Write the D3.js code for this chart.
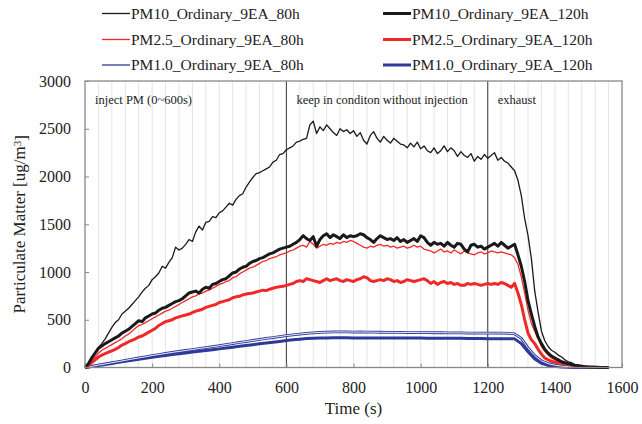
<!DOCTYPE html>
<html>
<head>
<meta charset="utf-8">
<script src="https://cdn.jsdelivr.net/npm/d3@7"></script>
<style>
  body { margin: 0; background: #fff; }
  svg text { font-family: "Liberation Serif", "Times New Roman", serif; fill: #222; }
</style>
</head>
<body>
<div id="chart"></div>
<script>
// time bases (s)
const time10 = d3.range(0, 1561, 10);
const time20 = d3.range(0, 1561, 20);

// PM10, 80h filter (every 10 s)
const pm10_80h = [
  0, 40, 95, 150, 210, 250, 300, 360, 420, 470,
  500, 560, 590, 620, 660, 700, 740, 790, 830, 860,
  920, 950, 990, 1060, 1040, 1100, 1150, 1260, 1230, 1250,
  1290, 1340, 1320, 1420, 1480, 1440, 1520, 1530, 1580, 1570,
  1620, 1640, 1680, 1720, 1700, 1760, 1800, 1820, 1890, 1940,
  1990, 2030, 2040, 2060, 2080, 2100, 2150, 2170, 2230, 2240,
  2280, 2300, 2320, 2360, 2370, 2390, 2400, 2540, 2580, 2450,
  2520, 2480, 2540, 2500, 2460, 2430, 2500, 2470, 2490, 2450,
  2480, 2420, 2460, 2380, 2340, 2430, 2470, 2400, 2360, 2420,
  2380, 2350, 2400, 2370, 2340, 2330, 2300, 2350, 2310, 2360,
  2290, 2320, 2270, 2250, 2300, 2240, 2270, 2320, 2260, 2300,
  2270, 2210, 2260, 2220, 2200, 2240, 2160, 2210, 2180, 2230,
  2190, 2220, 2250, 2170, 2200, 2160, 2140, 2100, 2060, 1960,
  1800, 1560, 1380, 1140, 800, 580, 380, 280, 220, 180,
  160, 130, 110, 80, 60, 50, 30, 25, 15, 10,
  6, 4, 2, 0, 0, 0, 0
];

// PM10, 120h filter
const pm10_120h = [
  0, 40, 100, 150, 200, 225, 250, 270, 290, 310,
  330, 360, 380, 400, 430, 460, 490, 480, 520, 540,
  560, 570, 600, 620, 630, 650, 670, 690, 700, 720,
  750, 780, 790, 800, 780, 820, 840, 830, 870, 880,
  900, 920, 930, 960, 990, 1000, 1030, 1050, 1060, 1090,
  1110, 1120, 1140, 1150, 1170, 1190, 1200, 1220, 1240, 1250,
  1260, 1270, 1290, 1310, 1340, 1380, 1350, 1330, 1370, 1270,
  1340, 1380, 1400, 1360, 1390, 1370, 1350, 1390, 1360, 1380,
  1370, 1380, 1400, 1390, 1360, 1340, 1310, 1350, 1380, 1360,
  1340, 1350, 1330, 1360, 1320, 1340, 1310, 1330, 1350, 1320,
  1380, 1360, 1310, 1280, 1310, 1290, 1300, 1270, 1310, 1280,
  1260, 1300, 1290, 1240, 1210, 1280, 1290, 1260, 1270, 1240,
  1260, 1280, 1300, 1270, 1310, 1280, 1250, 1270, 1290, 1180,
  1060, 900, 700, 560, 430, 320, 250, 190, 150, 120,
  100, 80, 60, 50, 40, 30, 22, 18, 12, 8,
  5, 3, 2, 1, 0, 0, 0
];

// PM2.5, 80h filter
const pm25_80h = [
  0, 30, 70, 110, 150, 180, 200, 220, 240, 260,
  280, 300, 330, 350, 380, 410, 440, 450, 470, 490,
  510, 530, 550, 570, 590, 600, 620, 640, 660, 680,
  700, 720, 740, 750, 770, 780, 800, 810, 830, 850,
  870, 880, 900, 910, 940, 950, 980, 1000, 1020, 1040,
  1050, 1070, 1090, 1110, 1120, 1140, 1150, 1160, 1180, 1190,
  1200, 1220, 1230, 1250, 1270, 1280, 1260, 1320, 1290, 1250,
  1270, 1290, 1280, 1300, 1290, 1310, 1300, 1320, 1310, 1330,
  1320, 1300, 1280, 1260, 1250, 1270, 1260, 1280, 1290, 1270,
  1280, 1260, 1270, 1250, 1260, 1270, 1250, 1260, 1280, 1260,
  1270, 1240, 1230, 1220, 1200, 1220, 1240, 1210, 1220, 1200,
  1230, 1210, 1190, 1220, 1200, 1190, 1180, 1200, 1210, 1190,
  1200, 1220, 1210, 1200, 1210, 1200, 1190, 1180, 1150, 1080,
  950, 780, 600, 460, 380, 300, 220, 170, 130, 100,
  80, 65, 55, 45, 38, 30, 24, 18, 14, 10,
  6, 4, 3, 2, 1, 0, 0
];

// PM2.5, 120h filter
const pm25_120h = [
  0, 20, 50, 80, 110, 130, 145, 160, 175, 190,
  210, 235, 250, 270, 285, 300, 320, 330, 350, 370,
  390, 410, 440, 460, 480, 490, 500, 520, 530, 540,
  550, 560, 575, 590, 600, 610, 630, 640, 650, 660,
  680, 690, 700, 710, 730, 740, 745, 760, 770, 775,
  780, 790, 800, 810, 805, 820, 830, 840, 845, 850,
  860, 870, 880, 900, 910, 900, 930, 920, 910, 900,
  890, 910, 930, 910, 920, 930, 910, 900, 920, 910,
  900, 920, 930, 950, 940, 910, 900, 910, 920, 910,
  930, 920, 900, 910, 890, 900, 920, 910, 900, 910,
  920, 930, 910, 880, 900, 870, 890, 900, 880, 890,
  870, 880, 860, 860, 880, 870, 880, 870, 860, 870,
  880, 870, 880, 870, 890, 880, 860, 840, 880, 780,
  660, 500, 360, 290, 250, 190, 140, 100, 80, 65,
  56, 50, 42, 36, 31, 25, 20, 15, 12, 9,
  5, 4, 3, 2, 1, 0, 0
];

// PM1.0, 80h filter (every 20 s)
const pm1_80h = [
  0, 12, 25, 37, 50, 62, 75, 88, 100, 112,
  125, 136, 147, 158, 168, 178, 188, 198, 208, 218,
  228, 240, 251, 262, 272, 283, 294, 304, 314, 324,
  334, 342, 350, 357, 363, 367, 370, 372, 373, 372,
  371, 372, 371, 370, 369, 368, 368, 367, 366, 366,
  365, 365, 364, 364, 363, 362, 362, 361, 361, 360,
  360, 360, 361, 358, 352, 305, 205, 125, 70, 40,
  24, 14, 8, 5, 3, 2, 1, 0, 0
];

// PM1.0, 120h filter
const pm1_120h = [
  0, 10, 21, 32, 43, 54, 65, 76, 86, 97,
  108, 117, 126, 135, 144, 152, 161, 170, 178, 187,
  195, 204, 213, 222, 230, 239, 248, 256, 265, 273,
  282, 290, 297, 303, 307, 309, 310, 311, 311, 311,
  310, 310, 310, 309, 309, 309, 308, 308, 308, 308,
  308, 307, 307, 306, 306, 305, 305, 304, 303, 303,
  302, 302, 301, 301, 300, 250, 165, 90, 45, 22,
  12, 6, 3, 1, 0, 0, 0, 0, 0
];

const xTicks = d3.range(0, 1601, 200);
const yTicks = d3.range(0, 3001, 500);
const phaseLines = [600, 1200];
const phaseLabels = ["inject PM (0~600s)", "keep in conditon without injection", "exhaust"];
const phaseStarts = [0, 600, 1200];

const series = [
  { name: "PM1.0_Ordinary_9EA_120h", time: time20, values: pm1_120h, color: "#2d3a9a", width: 3, col: 1, row: 2 },
  { name: "PM1.0_Ordinary_9EA_80h", time: time20, values: pm1_80h, color: "#2d3a9a", width: 1.3, col: 0, row: 2, hollow: true },
  { name: "PM2.5_Ordinary_9EA_120h", time: time10, values: pm25_120h, color: "#f02828", width: 3, col: 1, row: 1 },
  { name: "PM2.5_Ordinary_9EA_80h", time: time10, values: pm25_80h, color: "#f02828", width: 1.3, col: 0, row: 1 },
  { name: "PM10_Ordinary_9EA_120h", time: time10, values: pm10_120h, color: "#1a1a1a", width: 3, col: 1, row: 0 },
  { name: "PM10_Ordinary_9EA_80h", time: time10, values: pm10_80h, color: "#1a1a1a", width: 1.3, col: 0, row: 0 }
];

const FONT = "'Liberation Serif', 'Times New Roman', serif";
const width = 642, height = 424;
const margin = { top: 81, right: 20, bottom: 56.5, left: 85 };

const svg = d3.select("#chart").append("svg")
  .attr("width", width)
  .attr("height", height)
  .style("font-family", FONT);

const x = d3.scaleLinear().domain([0, 1600]).range([margin.left, width - margin.right]);
const y = d3.scaleLinear().domain([0, 3000]).range([height - margin.bottom, margin.top]);

// light vertical grid every 40 s
svg.append("g")
  .selectAll("line")
  .data(d3.range(40, 1600, 40))
  .enter().append("line")
  .attr("x1", d => x(d)).attr("x2", d => x(d))
  .attr("y1", y(0)).attr("y2", y(3000))
  .style("stroke", "#e4e4e4")
  .style("stroke-width", 1);

// phase separators
svg.append("g")
  .selectAll("line")
  .data(phaseLines)
  .enter().append("line")
  .attr("x1", d => x(d)).attr("x2", d => x(d))
  .attr("y1", y(0)).attr("y2", y(3000))
  .style("stroke", "#3a3a3a")
  .style("stroke-width", 1);

// phase labels
svg.append("g")
  .selectAll("text")
  .data(phaseLabels)
  .enter().append("text")
  .attr("x", (d, i) => x(phaseStarts[i]) + 10)
  .attr("y", 104)
  .style("font-family", FONT)
  .style("font-size", "12.5px")
  .text(d => d);

// axes
const xAxis = svg.append("g")
  .attr("transform", `translate(0,${y(0)})`)
  .call(d3.axisBottom(x).tickValues(xTicks).tickFormat(d3.format("d")).tickSize(-4).tickPadding(14));
const yAxis = svg.append("g")
  .attr("transform", `translate(${x(0)},0)`)
  .call(d3.axisLeft(y).tickValues(yTicks).tickFormat(d3.format("d")).tickSize(-4).tickPadding(14));

[xAxis, yAxis].forEach(g => {
  g.attr("font-family", FONT).attr("font-size", 16);
  g.select(".domain").remove();
  g.selectAll(".tick line").style("stroke", "#888");
  g.selectAll(".tick text")
    .style("font-family", FONT)
    .style("font-size", "16px")
    .style("fill", "#222");
});

// lines
const line = d3.line()
  .x(d => x(d[0]))
  .y(d => y(d[1]));

series.forEach(s => {
  const pts = s.time.map((t, i) => [t, s.values[i]]);
  if (s.hollow) {
    svg.append("path")
      .attr("d", line(pts))
      .style("fill", "none")
      .style("stroke", s.color)
      .style("stroke-width", 2.8)
      .style("stroke-linejoin", "round");
    svg.append("path")
      .attr("d", line(pts))
      .style("fill", "none")
      .style("stroke", "#fff")
      .style("stroke-width", 0.9);
  } else {
    svg.append("path")
      .attr("d", line(pts))
      .style("fill", "none")
      .style("stroke", s.color)
      .style("stroke-width", s.width)
      .style("stroke-linejoin", "round");
  }
});

// plot frame
svg.append("rect")
  .attr("x", x(0)).attr("y", y(3000))
  .attr("width", x(1600) - x(0))
  .attr("height", y(0) - y(3000))
  .style("fill", "none")
  .style("stroke", "#888")
  .style("stroke-width", 1.3);

// axis titles
svg.append("text")
  .attr("x", (x(0) + x(1600)) / 2)
  .attr("y", 414)
  .attr("text-anchor", "middle")
  .style("font-family", FONT)
  .style("font-size", "17px")
  .text("Time (s)");

const yTitle = svg.append("text")
  .attr("transform", `translate(25,${(y(0) + y(3000)) / 2}) rotate(-90)`)
  .attr("text-anchor", "middle")
  .style("font-family", FONT)
  .style("font-size", "17px");
yTitle.append("tspan").text("Particulate Matter [ug/m");
yTitle.append("tspan").attr("dy", "-0.4em").style("font-size", "11px").text("3");
yTitle.append("tspan").attr("dy", "0.4em").text("]");

// legend
const legendCols = [102, 383];
const legendRows = [13.5, 39.5, 65];
const legend = svg.append("g")
  .selectAll("g")
  .data(series)
  .enter().append("g")
  .attr("transform", d => `translate(${legendCols[d.col]},${legendRows[d.row]})`);
legend.append("line")
  .attr("x1", 0).attr("x2", 28)
  .style("stroke", d => d.color)
  .style("stroke-width", d => d.width);
legend.append("text")
  .attr("x", 29)
  .attr("dy", "0.35em")
  .style("font-family", FONT)
  .style("font-size", "15.5px")
  .text(d => d.name);
</script>
</body>
</html>
